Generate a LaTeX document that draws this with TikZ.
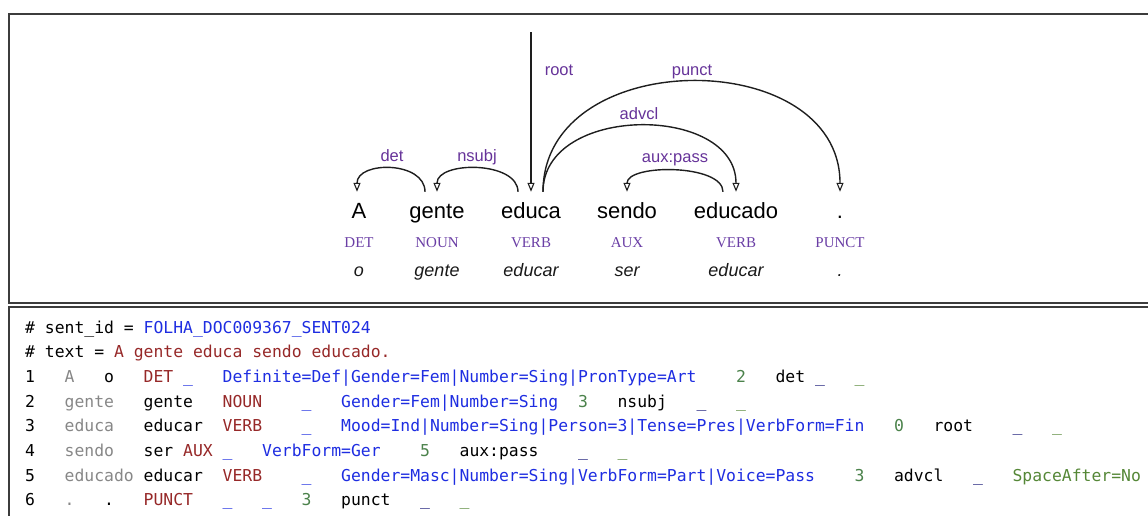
\documentclass[tikz,border=0pt]{standalone}
\usepackage{fontspec}
\setmainfont{Liberation Sans}
\newfontfamily\posfont{Liberation Serif}
\newfontfamily\codefont{DejaVu Sans Mono}
\usetikzlibrary{arrows.meta}
\frenchspacing

\definecolor{deplabel}{RGB}{102,51,153}
\definecolor{postag}{RGB}{106,62,165}
\definecolor{arcink}{RGB}{30,30,30}
\definecolor{panelline}{RGB}{60,60,60}
\definecolor{cgray}{RGB}{135,135,135}
\definecolor{cred}{RGB}{150,40,40}
\definecolor{cblue}{RGB}{30,45,225}
\definecolor{cnavy}{RGB}{25,25,120}
\definecolor{cgreen}{RGB}{75,130,75}
\definecolor{cmisc}{RGB}{85,135,55}

% column helpers for the CoNLL-U listing
\newlength\cwd
\setlength\cwd{9.873pt}
\newcommand\sk[1]{\hspace*{#1\cwd}}
\newcommand\cuForm[1]{\textcolor{cgray}{#1}}
\newcommand\cuPos[1]{\textcolor{cred}{#1}}
\newcommand\cuFeat[1]{\textcolor{cblue}{#1}}
\newcommand\cuHead[1]{\textcolor{cgreen}{#1}}
\newcommand\cuDeps[1]{\textcolor{cnavy}{#1}}
\newcommand\cuMisc[1]{\textcolor{cmisc}{#1}}

\begin{document}
\begin{tikzpicture}[x=1pt,y=-1pt,
  panel/.style={draw=panelline,line width=1.1pt},
  word/.style={font=\fontsize{22}{26}\selectfont,inner sep=0pt,text height=26pt,text depth=6pt,anchor=base,text=black},
  upos/.style={font=\posfont\fontsize{15}{18}\selectfont,inner sep=0pt,anchor=base,text=postag},
  lemma/.style={font=\itshape\fontsize{18}{22}\selectfont,inner sep=0pt,anchor=base,text=black!90},
  deplab/.style={font=\fontsize{16.5}{20}\selectfont,inner sep=0pt,anchor=base,text=deplabel},
  dep/.style={draw=arcink,line width=1.4pt,-{Triangle[open,length=9pt,width=7pt,line width=1.1pt]}},
  code/.style={font=\codefont\fontsize{16.4}{20}\selectfont,inner sep=0pt,anchor=base west,text=black}]
\useasboundingbox (0,0) rectangle (1148,515);

% two panels
\draw[panel] (9,14) rectangle (1170,303);
\draw[panel] (9,307) rectangle (1170,540);

% tokens, tags and lemmas
\foreach \n/\x/\w/\p/\l in {1/359/A/DET/o,2/437/gente/NOUN/gente,3/531/educa/VERB/educar,
                            4/627/sendo/AUX/ser,5/736/educado/VERB/educar,6/840/./PUNCT/.}{
  \node[word]  (w\n) at (\x,218) {\w};
  \node[upos]  (p\n) at (\x,247) {\p};
  \node[lemma] (m\n) at (\x,276) {\l};
}

% dependency arcs
\coordinate (rootTop) at (531,32);
\draw[dep] (rootTop) -- (w3.north);
\draw[dep] ([xshift=-12pt]w2.north) .. controls +(0,-31) and +(0,-31) .. ([xshift=-2pt]w1.north);
\draw[dep] ([xshift=-13pt]w3.north) .. controls +(0,-31) and +(0,-31) .. (w2.north);
\draw[dep] ([xshift=12pt]w3.north) .. controls +(0,-88) and +(0,-88) .. (w5.north);
\draw[dep] ([xshift=12pt]w3.north) .. controls +(0,-147) and +(0,-147) .. (w6.north);
\draw[dep] ([xshift=-13pt]w5.north) .. controls +(0,-28) and +(0,-28) .. (w4.north);

% relation labels
\node[deplab] (ldet)   at (392,161) {det};
\node[deplab] (lnsubj) at (477,161) {nsubj};
\node[deplab] (lroot)  at (559,75)  {root};
\node[deplab] (lpunct) at (692,75)  {punct};
\node[deplab] (ladvcl) at (639,119) {advcl};
\node[deplab] (laux)   at (675,162) {aux:pass};

% CoNLL-U listing
\node[code] (t0) at (25,333.0) {\#\sk{1}sent\_id\sk{1}=\sk{1}\cuFeat{FOLHA\_DOC009367\_SENT024}};
\node[code] (t1) at (25,357.7) {\#\sk{1}text\sk{1}=\sk{1}\cuPos{A\sk{1}gente\sk{1}educa\sk{1}sendo\sk{1}educado.}};
\node[code] (t2) at (25,382.4) {1\sk{3}\cuForm{A}\sk{3}o\sk{3}\cuPos{DET}\sk{1}\cuFeat{\_}\sk{3}\cuFeat{Definite=Def|Gender=Fem|Number=Sing|PronType=Art}\sk{4}\cuHead{2}\sk{3}det\sk{1}\cuDeps{\_}\sk{3}\cuMisc{\_}};
\node[code] (t3) at (25,407.1) {2\sk{3}\cuForm{gente}\sk{3}gente\sk{3}\cuPos{NOUN}\sk{4}\cuFeat{\_}\sk{3}\cuFeat{Gender=Fem|Number=Sing}\sk{2}\cuHead{3}\sk{3}nsubj\sk{3}\cuDeps{\_}\sk{3}\cuMisc{\_}};
\node[code] (t4) at (25,431.8) {3\sk{3}\cuForm{educa}\sk{3}educar\sk{2}\cuPos{VERB}\sk{4}\cuFeat{\_}\sk{3}\cuFeat{Mood=Ind|Number=Sing|Person=3|Tense=Pres|VerbForm=Fin}\sk{3}\cuHead{0}\sk{3}root\sk{4}\cuDeps{\_}\sk{3}\cuMisc{\_}};
\node[code] (t5) at (25,456.5) {4\sk{3}\cuForm{sendo}\sk{3}ser\sk{1}\cuPos{AUX}\sk{1}\cuFeat{\_}\sk{3}\cuFeat{VerbForm=Ger}\sk{4}\cuHead{5}\sk{3}aux:pass\sk{4}\cuDeps{\_}\sk{3}\cuMisc{\_}};
\node[code] (t6) at (25,481.2) {5\sk{3}\cuForm{educado}\sk{1}educar\sk{2}\cuPos{VERB}\sk{4}\cuFeat{\_}\sk{3}\cuFeat{Gender=Masc|Number=Sing|VerbForm=Part|Voice=Pass}\sk{4}\cuHead{3}\sk{3}advcl\sk{3}\cuDeps{\_}\sk{3}\cuMisc{SpaceAfter=No}};
\node[code] (t7) at (25,505.9) {6\sk{3}\cuForm{.}\sk{3}.\sk{3}\cuPos{PUNCT}\sk{3}\cuFeat{\_}\sk{3}\cuFeat{\_}\sk{3}\cuHead{3}\sk{3}punct\sk{3}\cuDeps{\_}\sk{3}\cuMisc{\_}};
\end{tikzpicture}
\end{document}
